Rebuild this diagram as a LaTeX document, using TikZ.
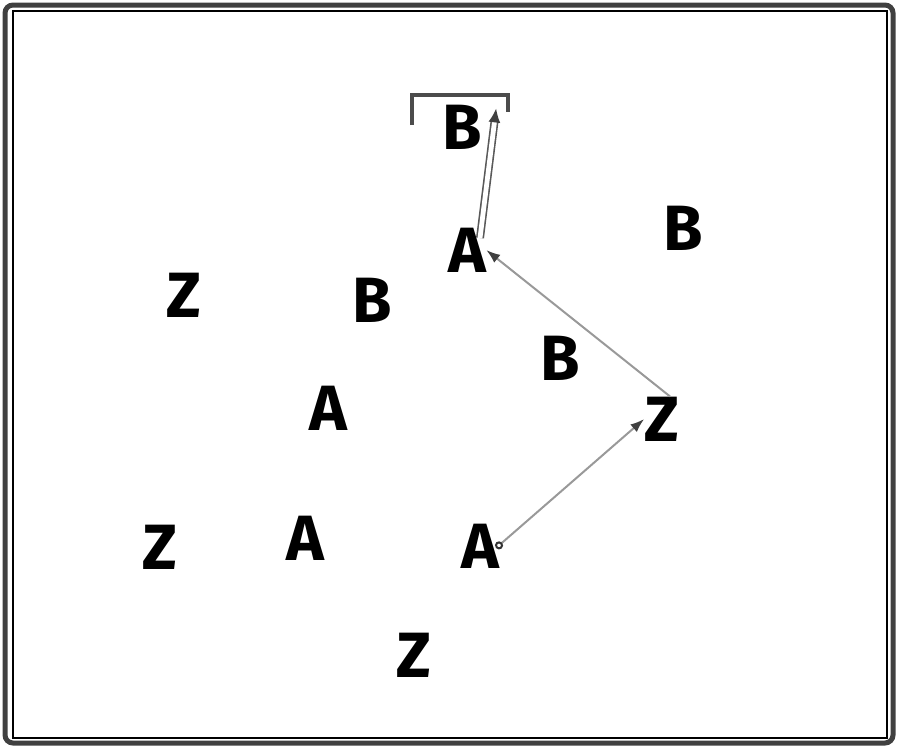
\documentclass[tikz,border=0pt]{standalone}
\usepackage{fontspec}
\setmainfont{Fira Sans}
\usetikzlibrary{arrows.meta}

\begin{document}
\begin{tikzpicture}[x=0.5pt,y=-0.5pt,
  letter/.style={inner sep=0pt,font=\fontsize{32}{32}\selectfont\bfseries},
  link/.style={draw=black!40,line width=1pt,-{Latex[length=7pt,width=5pt,color=black!75]}},
  chain/.style={draw=black!65,double=white,double distance=2.4pt,line width=0.8pt,-{Latex[length=7pt,width=6pt,color=black!75]}}]
 \useasboundingbox (0,0) rectangle (900,750);
 \draw [line width=2.5pt,black!75,rounded corners=4pt] (5,5) rectangle (893,743);
 \draw [line width=0.6pt] (13,11) rectangle (887,738);

 \node[letter] (b1) at (462,127) {B};
 \node[letter] (b2) at (683,228) {B};
 \node[letter] (z1) at (184,295) {Z};
 \node[letter] (b3) at (372,300) {B};
 \node[letter] (a1) at (467,250) {A};
 \node[letter] (b4) at (560,358) {B};
 \node[letter] (a2) at (328,408) {A};
 \node[letter] (z2) at (662,419) {Z};
 \node[letter] (z3) at (160,547) {Z};
 \node[letter] (a3) at (305,538) {A};
 \node[letter] (a4) at (480,546) {A};
 \node[letter] (z4) at (414,655) {Z};

 % bracket over the top B
 \draw [line width=1.6pt,black!70] (412,125) -- (412,95) -- (508,95) -- (508,112);

 \draw [link,{Circle[open,length=4pt,color=black!80]}-{Latex[length=7pt,width=5pt,color=black!75]}] ([xshift=8pt,yshift=-1pt]a4.center) -- (z2.west);
 \draw [link] ([xshift=4pt]z2.north) -- (a1.east);
 \draw [chain] ([xshift=6.5pt,yshift=6pt]a1.center) -- ([xshift=7pt,yshift=-2pt]b1.north east);
\end{tikzpicture}
\end{document}
